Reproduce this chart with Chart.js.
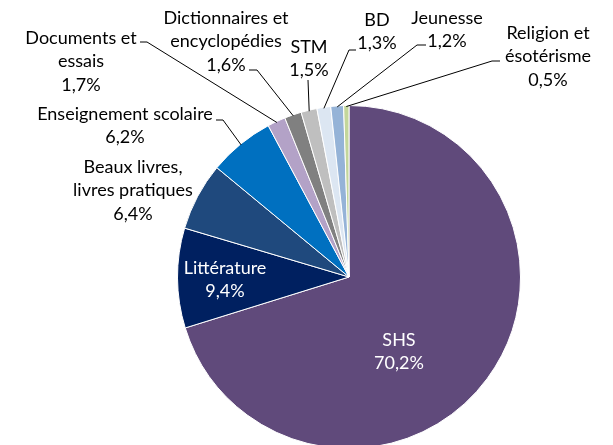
<!DOCTYPE html>
<html>
<head>
<meta charset="utf-8">
<script src="https://cdn.jsdelivr.net/npm/chart.js@4/dist/chart.umd.min.js"></script>
<style>
  html, body { margin: 0; padding: 0; background: #fff; overflow: hidden; }
  canvas { display: block; }
</style>
</head>
<body>
<canvas id="pieChart" width="613" height="460"></canvas>
<script>
// parts des catégories (%), dans l'ordre horaire depuis midi
const categories = [
    ['SHS'], ['Littérature'], ['Beaux livres,', 'livres pratiques'], ['Enseignement scolaire'],
    ['Documents et', 'essais'], ['Dictionnaires et', 'encyclopédies'], ['STM'], ['BD'],
    ['Jeunesse'], ['Religion et', 'ésotérisme']
];
const shares = [70.2, 9.4, 6.4, 6.2, 1.7, 1.6, 1.5, 1.3, 1.2, 0.5];
const colors = ['#604a7b', '#002060', '#1f497d', '#0070c0', '#b3a2c7',
                '#808080', '#bfbfbf', '#dce6f2', '#95b3d7', '#c3d69b'];

// position des étiquettes (centre de la 1re ligne) et coudes des lignes de rappel
const labelLayout = [
    { x: 399, y: 340, color: '#fff' },
    { x: 225, y: 268, color: '#fff' },
    { x: 133, y: 167 },
    { x: 125, y: 114, leader: [[216, 120], [223, 120]] },
    { x: 81, y: 38, leader: [[140, 42], [147, 42]] },
    { x: 226, y: 18, leader: [[249, 70], [257, 70]] },
    { x: 309, y: 47, leader: [[308, 80]] },
    { x: 377, y: 20, leader: [[356, 50], [349, 50]] },
    { x: 447, y: 18, leader: [[426, 45], [417, 45]] },
    { x: 548, y: 33, leader: [[500, 61], [492, 61]] }
];

const fmt = v => v.toFixed(1).replace('.', ',') + '%';

const pieLabels = {
    id: 'pieLabels',
    afterDraw(chart) {
        const ctx = chart.ctx;
        const arcs = chart.getDatasetMeta(0).data;
        ctx.save();
        ctx.font = '18px Lato';
        ctx.textAlign = 'center';
        ctx.textBaseline = 'middle';
        arcs.forEach((arc, i) => {
            const lay = labelLayout[i];
            const lines = categories[i].concat([fmt(shares[i])]);
            ctx.fillStyle = lay.color || '#000';
            lines.forEach((t, k) => ctx.fillText(t, lay.x, lay.y + k * 23.5));
            if (lay.leader) {
                const p = arc.getProps(['x', 'y', 'startAngle', 'endAngle', 'outerRadius'], true);
                const mid = (p.startAngle + p.endAngle) / 2;
                const ex = p.x + Math.cos(mid) * (p.outerRadius - 1);
                const ey = p.y + Math.sin(mid) * (p.outerRadius - 1);
                ctx.beginPath();
                ctx.strokeStyle = '#000';
                ctx.lineWidth = 1;
                ctx.moveTo(lay.leader[0][0], lay.leader[0][1]);
                lay.leader.slice(1).forEach(pt => ctx.lineTo(pt[0], pt[1]));
                ctx.lineTo(ex, ey);
                ctx.stroke();
            }
        });
        ctx.restore();
    }
};

new Chart(document.getElementById('pieChart').getContext('2d'), {
    type: 'pie',
    data: {
        labels: categories,
        datasets: [{
            data: shares,
            backgroundColor: colors,
            borderColor: '#fff',
            borderWidth: 1
        }]
    },
    options: {
        responsive: false,
        animation: false,
        layout: { padding: { left: 177, right: 92, top: 105, bottom: 11 } },
        plugins: {
            legend: { display: false },
            tooltip: { enabled: false }
        }
    },
    plugins: [pieLabels]
});
</script>
</body>
</html>
